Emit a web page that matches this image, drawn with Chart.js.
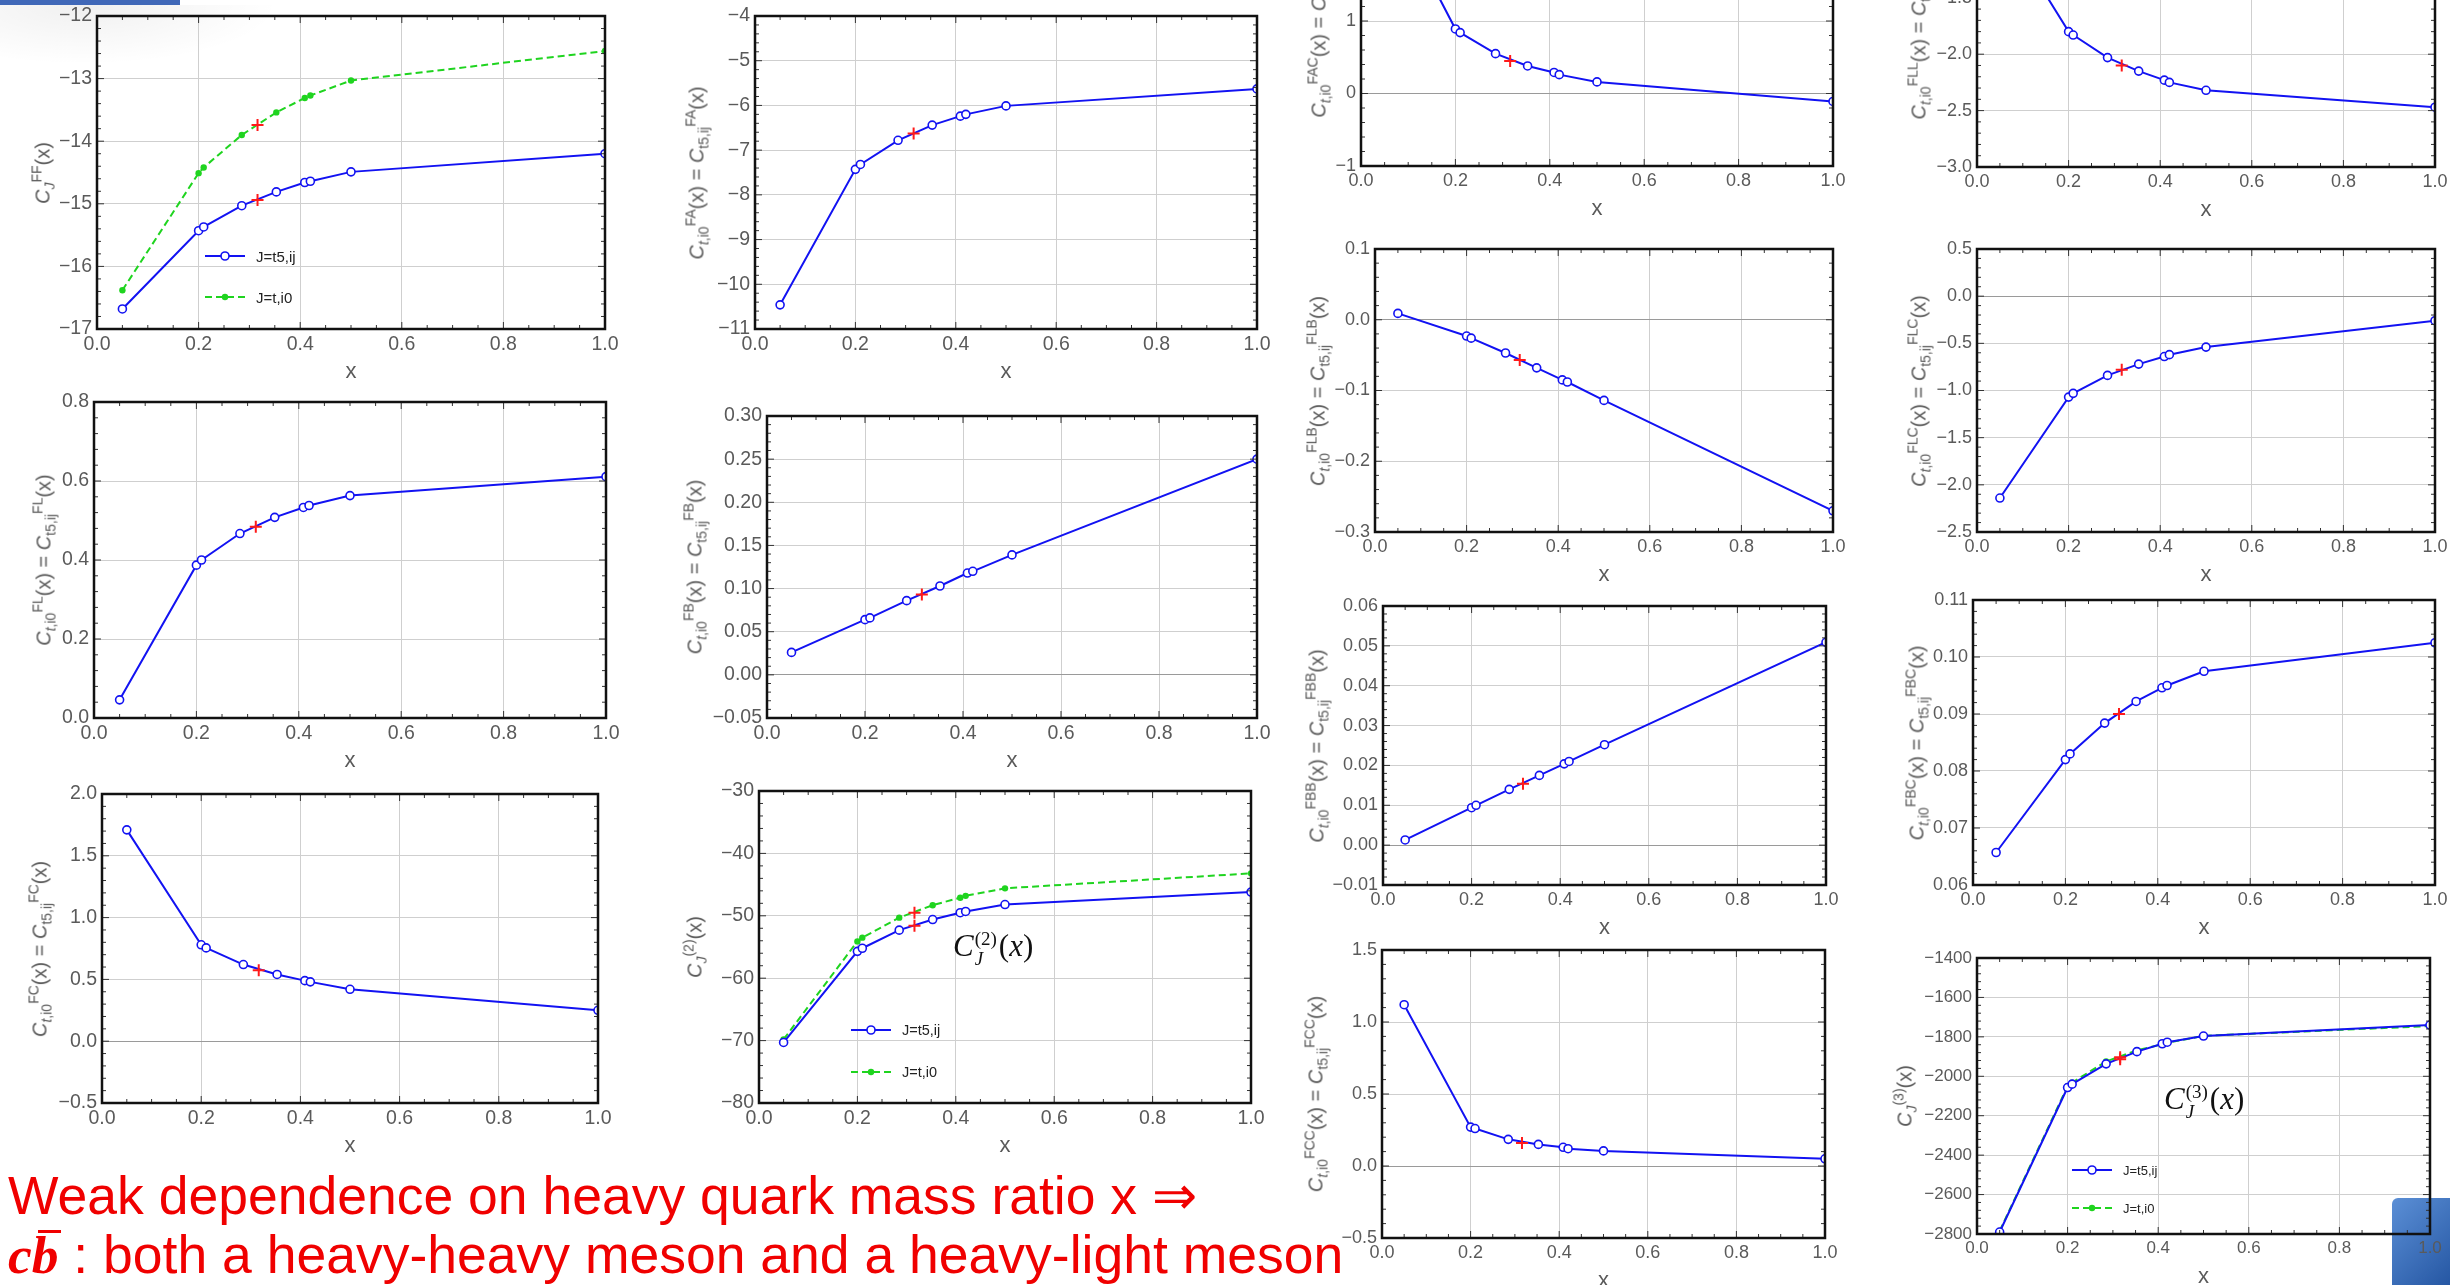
<!DOCTYPE html>
<html>
<head>
<meta charset="utf-8">
<script src="https://cdn.jsdelivr.net/npm/chart.js@4.4.1/dist/chart.umd.min.js"></script>
<style>
  body { margin: 0; width: 2450px; height: 1285px; overflow: hidden; background: #fff; position: relative;
         font-family: "Liberation Sans", Arial, sans-serif; }
  .panel { position: absolute; }
  .ytitle { position: absolute; transform: translate(-50%, -50%) rotate(-90deg); white-space: nowrap;
            color: #5a5a5a; font-size: 20px; }
  .ytitle sub, .ytitle sup { font-size: 14px; line-height: 0; vertical-align: baseline; position: relative; }
  .ytitle sub { top: 0.35em; }
  .ytitle sup { top: -0.6em; }
  .leg { position: absolute; display: flex; align-items: center; color: #222; white-space: nowrap; }
  .math { position: absolute; font-family: "Liberation Serif", "DejaVu Serif", serif; font-size: 31px; color: #111;
          white-space: nowrap; transform: translateY(-50%); }
  .stack { display: inline-flex; flex-direction: column; vertical-align: middle; font-size: 19px; line-height: 1.05;
           margin-left: 1px; margin-right: 2px; }
  .red { position: absolute; left: 8px; color: #f00000; font-size: 53.5px; line-height: 53px; white-space: nowrap; }
  .cb { font-family: "Liberation Serif", "DejaVu Serif", serif; font-weight: bold; font-style: italic; }
  .bar { position: relative; }
  .bar::before { content: ""; position: absolute; left: 0.12em; right: -0.04em; top: 0.1em; border-top: 3px solid #f00000; }
</style>
</head>
<body>
<div style="position:absolute;left:0;top:0;width:180px;height:5px;background:#4068b8"></div>
<div style="position:absolute;left:0;top:5px;width:280px;height:60px;background:radial-gradient(ellipse at 30% 0%, rgba(0,0,0,0.06), rgba(0,0,0,0) 70%);"></div>
<div style="position:absolute;left:2392px;top:1198px;width:70px;height:95px;border-radius:6px;background:linear-gradient(135deg,#5b8fd6,#1e4f9c)"></div>

<div class="red" style="top:1169px">Weak dependence on heavy quark mass ratio x ⇒</div>
<div class="red" style="top:1228px"><span class="cb">c<span class="bar">b</span></span> : both a heavy-heavy meson and a heavy-light meson</div>

<script>
// ----------------- DATA -----------------
// x = heavy quark mass ratio, same grid in every panel
var xVals = [0.05, 0.2, 0.21, 0.285, 0.353, 0.409, 0.42, 0.5, 1.0];
var xRef = 0.316;   // red crosses
var seriesNames = ["J=t5,ij", "J=t,i0"];

var ffT5  = [-16.68, -15.43, -15.37, -15.03, -14.81, -14.66, -14.64, -14.49, -14.20];
var ffTi0 = [-16.38, -14.51, -14.42, -13.90, -13.54, -13.31, -13.27, -13.03, -12.56];
var ffRef = [-14.94, -13.74];

var fa    = [-10.46, -7.43, -7.32, -6.78, -6.44, -6.24, -6.20, -6.01, -5.63];
var faRef = [-6.63];
var fac   = [2.77, 0.89, 0.84, 0.55, 0.38, 0.29, 0.26, 0.16, -0.11];
var facRef = [0.45];
var fll   = [-0.82, -1.80, -1.83, -2.03, -2.15, -2.23, -2.25, -2.32, -2.47];
var fllRef = [-2.10];

var fl    = [0.046, 0.387, 0.400, 0.467, 0.508, 0.533, 0.538, 0.563, 0.611];
var flRef = [0.484];
var fb    = [0.026, 0.064, 0.066, 0.086, 0.103, 0.118, 0.120, 0.139, 0.250];
var fbRef = [0.093];
var flb   = [0.009, -0.023, -0.026, -0.047, -0.068, -0.085, -0.088, -0.114, -0.270];
var flbRef = [-0.057];
var flc   = [-2.14, -1.07, -1.03, -0.84, -0.72, -0.64, -0.62, -0.54, -0.26];
var flcRef = [-0.78];

var fbb   = [0.0013, 0.0094, 0.0100, 0.0140, 0.0175, 0.0204, 0.0210, 0.0252, 0.0509];
var fbbRef = [0.0154];
var fbc   = [0.0657, 0.0820, 0.0830, 0.0884, 0.0922, 0.0946, 0.0950, 0.0975, 0.1025];
var fbcRef = [0.0900];
var fc    = [1.71, 0.78, 0.755, 0.62, 0.54, 0.49, 0.48, 0.42, 0.25];
var fcRef = [0.575];

var c2T5  = [-70.3, -55.7, -55.2, -52.3, -50.6, -49.5, -49.3, -48.2, -46.2];
var c2Ti0 = [-69.8, -54.1, -53.5, -50.3, -48.3, -47.1, -46.8, -45.6, -43.2];
var c2Ref = [-51.6, -49.5];

var fcc   = [1.12, 0.27, 0.26, 0.185, 0.15, 0.13, 0.12, 0.105, 0.05];
var fccRef = [0.16];
var c3T5  = [-2790, -2057, -2040, -1937, -1875, -1835, -1827, -1796, -1740];
var c3Ti0 = [-2785, -2050, -2032, -1925, -1868, -1838, -1830, -1795, -1745];
var c3Ref = [-1914, -1903];

// ----------------- STYLE -----------------
var BLUE = '#1212f2', GREEN = '#1fd41f', RED = '#ff1a1a', TICK = '#5a5a5a';
var YW = 90, PT = 14, PR = 26, XH = 62;   // space round each plot frame

Chart.defaults.font.family = '"Liberation Sans", Arial, sans-serif';
Chart.defaults.animation = false;

function eqTitle(s) {
  return '<i>C</i><sub><i>t</i>,i0</sub><sup>' + s + '</sup>(x) = <i>C</i><sub>t5,ij</sub><sup>' + s + '</sup>(x)';
}
function jTitle(s) {
  return '<i>C</i><sub><i>J</i></sub><sup>' + s + '</sup>(x)';
}

// box = plot frame [left, top, right, bottom] in page pixels
var panels = [
  { box: [97, 16, 605, 329],    y: [-17, -12, 1],      dec: 0, blue: ffT5, green: ffTi0, refs: ffRef, title: jTitle('FF'), tOff: 54 },
  { box: [755, 16, 1257, 329],  y: [-11, -4, 1],       dec: 0, blue: fa,   refs: faRef,  title: eqTitle('FA'),  tOff: 58 },
  { box: [1361, -124, 1833, 166], y: [-1, 3, 1],       dec: 0, blue: fac,  refs: facRef, title: eqTitle('FAC'), tOff: 42, fs: 18 },
  { box: [1977, -115, 2435, 167], y: [-3, -0.5, 0.5],  dec: 1, blue: fll,  refs: fllRef, title: eqTitle('FLL'), tOff: 58, fs: 18 },
  { box: [94, 402, 606, 718],   y: [0, 0.8, 0.2],      dec: 1, blue: fl,   refs: flRef,  title: eqTitle('FL'),  tOff: 50 },
  { box: [767, 416, 1257, 718], y: [-0.05, 0.3, 0.05], dec: 2, blue: fb,   refs: fbRef,  title: eqTitle('FB'),  tOff: 72 },
  { box: [1375, 249, 1833, 532], y: [-0.3, 0.1, 0.1],  dec: 1, blue: flb,  refs: flbRef, title: eqTitle('FLB'), tOff: 57, fs: 18 },
  { box: [1977, 249, 2435, 532], y: [-2.5, 0.5, 0.5],  dec: 1, blue: flc,  refs: flcRef, title: eqTitle('FLC'), tOff: 58, fs: 18 },
  { box: [1383, 606, 1826, 885], y: [-0.01, 0.06, 0.01], dec: 2, blue: fbb, refs: fbbRef, title: eqTitle('FBB'), tOff: 66, fs: 18 },
  { box: [1973, 600, 2435, 885], y: [0.06, 0.11, 0.01], dec: 2, blue: fbc, refs: fbcRef, title: eqTitle('FBC'), tOff: 56, fs: 18 },
  { box: [102, 794, 598, 1103],  y: [-0.5, 2, 0.5],    dec: 1, blue: fc,   refs: fcRef,  title: eqTitle('FC'),  tOff: 62 },
  { box: [759, 791, 1251, 1103], y: [-80, -30, 10],    dec: 0, blue: c2T5, green: c2Ti0, refs: c2Ref, title: jTitle('(2)'), tOff: 64 },
  { box: [1382, 950, 1825, 1238], y: [-0.5, 1.5, 0.5], dec: 1, blue: fcc,  refs: fccRef, title: eqTitle('FCC'), tOff: 66, fs: 18 },
  { box: [1977, 958, 2430, 1234], y: [-2800, -1400, 200], dec: 0, blue: c3T5, green: c3Ti0, refs: c3Ref, title: jTitle('(3)'), tOff: 72, fs: 17 }
];

var legends = [
  { x: 205, rows: [256, 297], fs: 15 },
  { x: 851, rows: [1030, 1072], fs: 14.5 },
  { x: 2072, rows: [1170, 1208], fs: 13 }
];

// ----------------- HELPERS -----------------
function pairs(ys) {
  return xVals.map(function (x, i) { return { x: x, y: ys[i] }; });
}

function fmt(v, dec) {
  if (Math.abs(v) < 1e-9) v = 0;
  return (v < 0 ? '\u2212' : '') + Math.abs(v).toFixed(dec);
}

// black frame with Mathematica style inward ticks
var framePlugin = {
  id: 'frame',
  afterDatasetsDraw: function (chart, args, opts) {
    var ctx = chart.ctx, a = chart.chartArea, xs = chart.scales.x, ys = chart.scales.y;
    ctx.save();
    ctx.strokeStyle = '#333';
    ctx.lineWidth = 1;
    ctx.beginPath();
    for (var i = 0; i <= 20; i++) {
      var px = xs.getPixelForValue(i * 0.05), len = (i % 4 === 0) ? 7 : 4;
      ctx.moveTo(px, a.bottom); ctx.lineTo(px, a.bottom - len);
      ctx.moveTo(px, a.top); ctx.lineTo(px, a.top + len);
    }
    var n = Math.round((opts.max - opts.min) / opts.step) * 5;
    for (var j = 0; j <= n; j++) {
      var py = ys.getPixelForValue(opts.min + j * opts.step / 5), l2 = (j % 5 === 0) ? 7 : 4;
      ctx.moveTo(a.left, py); ctx.lineTo(a.left + l2, py);
      ctx.moveTo(a.right, py); ctx.lineTo(a.right - l2, py);
    }
    ctx.stroke();
    ctx.lineWidth = 2.5;
    ctx.strokeStyle = '#111';
    ctx.strokeRect(a.left, a.top, a.right - a.left, a.bottom - a.top);
    ctx.restore();
  }
};

function gridColor(c) {
  return (c.tick && Math.abs(c.tick.value) < 1e-9) ? '#9a9a9a' : '#cfcfcf';
}

function drawPanel(p) {
  var L = p.box[0], T = p.box[1], R = p.box[2], B = p.box[3];
  var fs = p.fs || 19.5;
  var div = document.createElement('div');
  div.className = 'panel';
  div.style.left = (L - YW) + 'px';
  div.style.top = (T - PT) + 'px';
  div.style.width = (R - L + YW + PR) + 'px';
  div.style.height = (B - T + PT + XH) + 'px';
  var cv = document.createElement('canvas');
  div.appendChild(cv);
  document.body.appendChild(div);

  var ds = [];
  ds.push({ data: p.refs.map(function (v) { return { x: xRef, y: v }; }), showLine: false,
            pointStyle: 'cross', pointRadius: 6, pointBorderWidth: 2, pointBorderColor: RED, borderColor: RED });
  ds.push({ data: pairs(p.blue), borderColor: BLUE, borderWidth: 2, pointRadius: 4, pointBorderWidth: 1.6,
            pointBackgroundColor: '#fff', pointBorderColor: BLUE });
  if (p.green) {
    ds.push({ data: pairs(p.green), borderColor: GREEN, borderWidth: 2, borderDash: [7, 4], pointRadius: 3.2,
              pointBorderWidth: 0, pointBackgroundColor: GREEN, pointBorderColor: GREEN });
  }

  new Chart(cv, {
    type: 'line',
    data: { datasets: ds },
    plugins: [framePlugin],
    options: {
      responsive: true,
      maintainAspectRatio: false,
      events: [],
      layout: { padding: { top: PT, right: PR, left: 0, bottom: 0 } },
      plugins: {
        legend: { display: false },
        tooltip: { enabled: false },
        frame: { min: p.y[0], max: p.y[1], step: p.y[2] }
      },
      scales: {
        x: {
          type: 'linear', min: 0, max: 1,
          ticks: { stepSize: 0.2, autoSkip: false, maxRotation: 0, padding: 4, color: TICK, font: { size: fs },
                   callback: function (v) { return fmt(v, 1); } },
          grid: { color: '#cfcfcf', drawTicks: false },
          border: { display: false },
          title: { display: true, text: 'x', color: TICK, font: { size: 22 }, padding: { top: 0, bottom: 6 } },
          afterFit: function (a) { a.height = XH; a.paddingLeft = 0; a.paddingRight = 0; }
        },
        y: {
          type: 'linear', min: p.y[0], max: p.y[1],
          ticks: { stepSize: p.y[2], autoSkip: false, padding: 5, color: TICK, font: { size: fs },
                   callback: function (v) { return fmt(v, p.dec); } },
          grid: { color: gridColor, drawTicks: false },
          border: { display: false },
          afterFit: function (a) { a.width = YW; a.paddingTop = 0; a.paddingBottom = 0; }
        }
      }
    }
  });

  var t = document.createElement('div');
  t.className = 'ytitle';
  t.style.left = (L - p.tOff) + 'px';
  t.style.top = ((T + B) / 2) + 'px';
  t.innerHTML = p.title;
  document.body.appendChild(t);
}

function drawLegend(lg) {
  var samples = [
    '<svg width="40" height="12"><line x1="0" y1="6" x2="40" y2="6" stroke="' + BLUE + '" stroke-width="2"/>' +
      '<circle cx="20" cy="6" r="4" fill="#fff" stroke="' + BLUE + '" stroke-width="1.6"/></svg>',
    '<svg width="40" height="12"><line x1="0" y1="6" x2="40" y2="6" stroke="' + GREEN + '" stroke-width="2" stroke-dasharray="7 4"/>' +
      '<circle cx="20" cy="6" r="3.2" fill="' + GREEN + '"/></svg>'
  ];
  lg.rows.forEach(function (y, i) {
    var d = document.createElement('div');
    d.className = 'leg';
    d.style.left = lg.x + 'px';
    d.style.top = (y - 8) + 'px';
    d.style.height = '16px';
    d.style.fontSize = lg.fs + 'px';
    d.innerHTML = samples[i] + '<span style="margin-left:11px">' + seriesNames[i] + '</span>';
    document.body.appendChild(d);
  });
}

function drawMath(x, y, n) {
  var d = document.createElement('div');
  d.className = 'math';
  d.style.left = x + 'px';
  d.style.top = y + 'px';
  d.innerHTML = '<i>C</i><span class="stack"><span>(' + n + ')</span><span><i>J</i></span></span>(<i>x</i>)';
  document.body.appendChild(d);
}

panels.forEach(drawPanel);
legends.forEach(drawLegend);
drawMath(953, 948, 2);
drawMath(2164, 1101, 3);
</script>
</body>
</html>
